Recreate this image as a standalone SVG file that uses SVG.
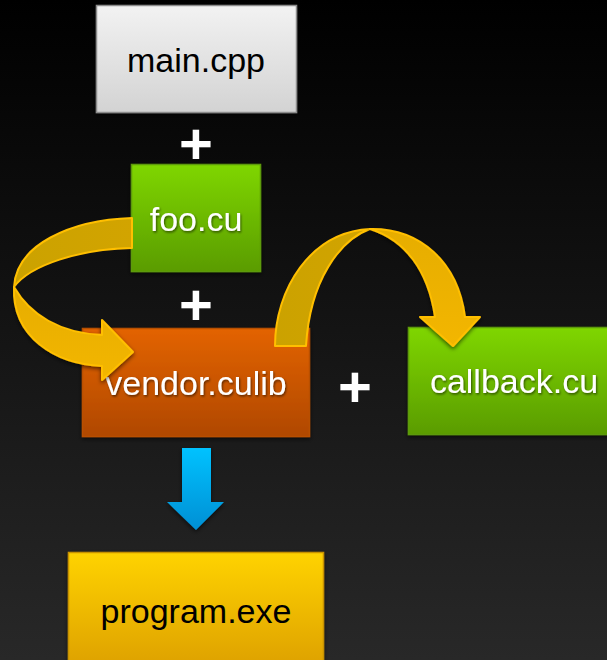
<svg xmlns="http://www.w3.org/2000/svg" width="607" height="660" viewBox="0 0 607 660">
  <defs>
    <linearGradient id="bg" x1="0" y1="0" x2="0" y2="1">
      <stop offset="0" stop-color="#000000"/>
      <stop offset="1" stop-color="#282828"/>
    </linearGradient>
    <linearGradient id="gGray" x1="0" y1="0" x2="0" y2="1">
      <stop offset="0" stop-color="#f2f2f2"/>
      <stop offset="1" stop-color="#d3d3d3"/>
    </linearGradient>
    <linearGradient id="gGreen" x1="0" y1="0" x2="0" y2="1">
      <stop offset="0" stop-color="#7fd600"/>
      <stop offset="1" stop-color="#5a9c00"/>
    </linearGradient>
    <linearGradient id="gOrange" x1="0" y1="0" x2="0" y2="1">
      <stop offset="0" stop-color="#e36300"/>
      <stop offset="1" stop-color="#b04800"/>
    </linearGradient>
    <linearGradient id="gYellow" x1="0" y1="0" x2="0" y2="1">
      <stop offset="0" stop-color="#ffd300"/>
      <stop offset="1" stop-color="#dda000"/>
    </linearGradient>
    <linearGradient id="gBlue" x1="0" y1="0" x2="0" y2="1">
      <stop offset="0" stop-color="#00c2ff"/>
      <stop offset="1" stop-color="#008fd4"/>
    </linearGradient>
    <linearGradient id="gBack" x1="0" y1="0" x2="1" y2="0">
      <stop offset="0" stop-color="#cba200"/>
      <stop offset="1" stop-color="#d2a400"/>
    </linearGradient>
    <linearGradient id="gFront" x1="0" y1="0" x2="0" y2="1">
      <stop offset="0" stop-color="#e6ad00"/>
      <stop offset="1" stop-color="#f3b600"/>
    </linearGradient>
    <filter id="boxShadow" x="-10%" y="-10%" width="120%" height="130%">
      <feDropShadow dx="0" dy="2" stdDeviation="2" flood-color="#000" flood-opacity="0.6"/>
    </filter>
    <filter id="textShadow" x="-10%" y="-20%" width="120%" height="150%">
      <feDropShadow dx="1" dy="1.5" stdDeviation="1" flood-color="#000" flood-opacity="0.55"/>
    </filter>
  </defs>
  <style>
    .label { font-family: "Liberation Sans", Arial, sans-serif; font-size: 34px; text-anchor: middle; }
    .dark { fill: #000000; }
    .light { fill: #ffffff; filter: url(#textShadow); }
    .plus { font-family: "Liberation Sans", Arial, sans-serif; font-size: 58px; font-weight: bold; fill: #ffffff; text-anchor: middle; }
    .box { filter: url(#boxShadow); }
    .ribbon { stroke: #ffbf00; stroke-width: 2; stroke-linejoin: round; }
  </style>

  <rect width="607" height="660" fill="url(#bg)"/>

  <!-- source files -->
  <g id="main-cpp">
    <rect class="box" x="96.5" y="5.5" width="200" height="107" fill="url(#gGray)" stroke="#8c8c8c" stroke-width="1.5"/>
    <text class="label dark" x="196" y="72">main.cpp</text>
  </g>
  <g id="foo-cu">
    <rect class="box" x="131.5" y="164.5" width="129" height="107" fill="url(#gGreen)" stroke="#5d9a0a" stroke-width="1.5"/>
    <text class="label light" x="196" y="231">foo.cu</text>
  </g>
  <g id="vendor-culib">
    <rect class="box" x="82.5" y="328.5" width="227" height="108" fill="url(#gOrange)" stroke="#b85000" stroke-width="1.5"/>
    <text class="label light" x="196" y="395">vendor.culib</text>
  </g>
  <g id="callback-cu">
    <rect class="box" x="408.5" y="327.5" width="212" height="107" fill="url(#gGreen)" stroke="#5d9a0a" stroke-width="1.5"/>
    <text class="label light" x="514" y="393">callback.cu</text>
  </g>
  <g id="program-exe">
    <rect class="box" x="68.5" y="552.5" width="255" height="116" fill="url(#gYellow)" stroke="#c89200" stroke-width="1.5"/>
    <text class="label dark" x="196" y="623">program.exe</text>
  </g>

  <!-- plus signs -->
  <g id="plus-signs">
    <text class="plus" x="196" y="164">+</text>
    <text class="plus" x="196" y="325">+</text>
    <text class="plus" x="355" y="407">+</text>
  </g>

  <!-- connectors -->
  <g id="connectors">
    <!-- foo.cu looping round into vendor.culib -->
    <path class="ribbon" d="M132,218 C70,220 16,245 14,287 C30,265 80,249 132,248 Z" fill="url(#gBack)"/>
    <path class="ribbon box" d="M14,287 C12,337 55,364 102,366 L102,380 L133,352 L102,320 L102,335 C60,333 30,315 14,287 Z" fill="url(#gFront)"/>
    <!-- vendor.culib arching over to callback.cu -->
    <path class="ribbon" d="M275,346 C275,290 310,232 370,229 C340,240 310,280 306,346 Z" fill="url(#gBack)"/>
    <path class="ribbon box" d="M370,229 C420,228 458,262 465,317 L480,317 L453,346 L420,317 L435,317 C428,270 405,240 370,229 Z" fill="url(#gFront)"/>
    <!-- link step down to the executable -->
    <path class="box" d="M182,448 L211,448 L211,502 L224,502 L196,530 L167,502 L182,502 Z" fill="url(#gBlue)"/>
  </g>
</svg>
